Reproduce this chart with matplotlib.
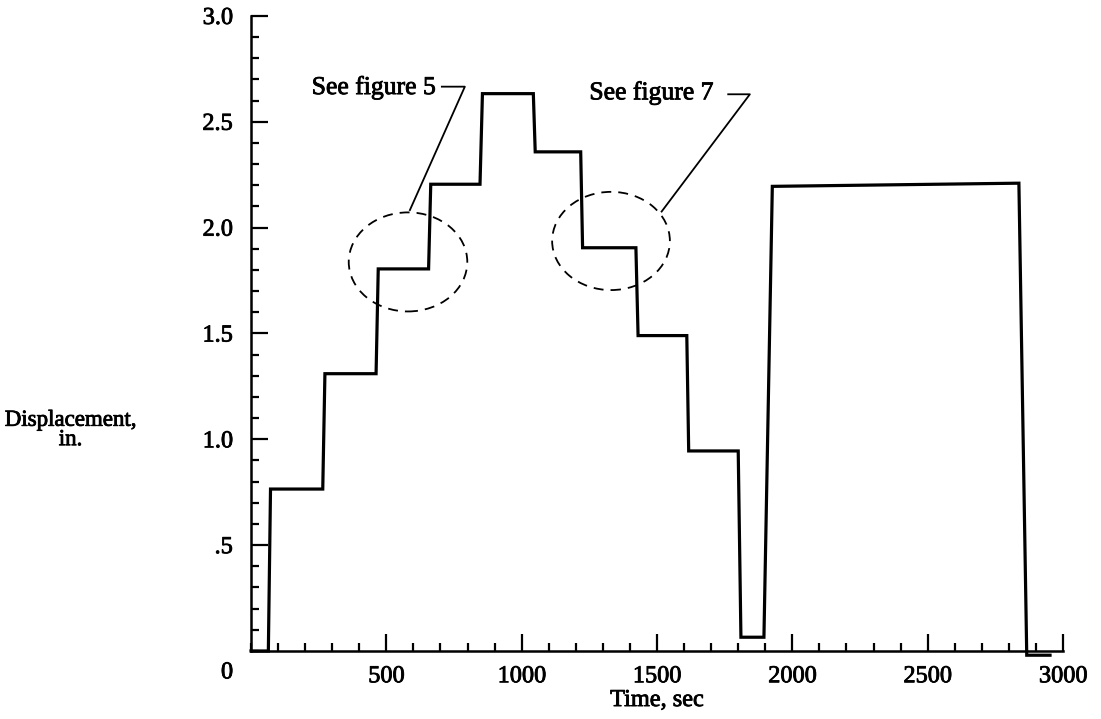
import numpy as np
import matplotlib
matplotlib.use("Agg")
import matplotlib.pyplot as plt
import matplotlib.patheffects as pe
from matplotlib.patches import Ellipse
from matplotlib.ticker import MultipleLocator, FixedLocator

plt.rcParams['font.family'] = ['Liberation Serif', 'DejaVu Serif']

# displacement time history (step corners)
time = [0, 64, 72, 265, 273, 462, 470, 656, 664, 846, 855, 1043, 1050, 1218,
        1225, 1422, 1430, 1610, 1617, 1800, 1810, 1895, 1926, 2837, 2866, 2952]
disp = [0, 0, 0.765, 0.765, 1.31, 1.31, 1.805, 1.805, 2.205, 2.205, 2.633, 2.633,
        2.358, 2.358, 1.905, 1.905, 1.49, 1.49, 0.945, 0.945, 0.065, 0.065,
        2.195, 2.21, -0.02, -0.02]

xticks = [500, 1000, 1500, 2000, 2500, 3000]
yticks = [0.5, 1.0, 1.5, 2.0, 2.5, 3.0]
yticklabels = ['.5', '1.0', '1.5', '2.0', '2.5', '3.0']

# circled regions: (center t, center d, width, height)
circ5 = (580, 1.838, 438, 0.468)
circ7 = (1330, 1.937, 435, 0.464)

# slightly heavier strokes on the lettering
heavy = [pe.withStroke(linewidth=0.6, foreground='black')]

fig = plt.figure(figsize=(11.01, 7.19), dpi=100)
ax = fig.add_axes([0.228, 0.0946, 0.7375, 0.8832])

ax.plot(time, disp, color='black', linewidth=2.3, clip_on=False, solid_joinstyle='miter')

for cx, cy, w, h in (circ5, circ7):
    ax.add_patch(Ellipse((cx, cy), w, h, fill=False, edgecolor='black',
                         linewidth=1.3, linestyle=(0, (5.5, 3.9))))

# leader lines
ax.plot([705, 790, 587], [2.666, 2.666, 2.083], color='black', linewidth=1.3)
ax.plot([1763, 1843, 1517], [2.630, 2.630, 2.076], color='black', linewidth=1.3)
ax.text(224, 2.631, 'See figure 5', fontsize=18.5, ha='left', va='baseline',
        path_effects=heavy)
ax.text(1250, 2.606, 'See figure 7', fontsize=18.5, ha='left', va='baseline',
        path_effects=heavy)

ax.set_xlim(0, 3000)
ax.set_ylim(0, 3.0)
for s in ['top', 'right']:
    ax.spines[s].set_visible(False)
for s in ['left', 'bottom']:
    ax.spines[s].set_linewidth(1.8)

ax.xaxis.set_major_locator(FixedLocator(xticks))
ax.xaxis.set_minor_locator(MultipleLocator(100))
ax.yaxis.set_major_locator(FixedLocator(yticks))
ax.set_yticklabels(yticklabels)
ax.yaxis.set_minor_locator(MultipleLocator(0.1))
ax.tick_params(which='major', direction='in', length=12, width=1.6, labelsize=17.5)
ax.tick_params(which='minor', direction='in', length=6, width=1.6)
ax.tick_params(axis='y', which='major', pad=13)
ax.tick_params(axis='x', which='major', pad=11)
for lbl in ax.get_xticklabels() + ax.get_yticklabels():
    lbl.set_path_effects(heavy)

ax.annotate('0', xy=(0, 0), xycoords='data', xytext=(-13, -15.8),
            textcoords='offset points', ha='right', va='center', fontsize=17.5,
            path_effects=heavy)

ax.set_xlabel('Time, sec', fontsize=17.5, labelpad=2, path_effects=heavy)
fig.text(0.064, 0.402, 'Displacement,\nin.', fontsize=16.5, ha='center', va='center',
         linespacing=0.9, path_effects=heavy)

fig.savefig('out.png', dpi=100)
